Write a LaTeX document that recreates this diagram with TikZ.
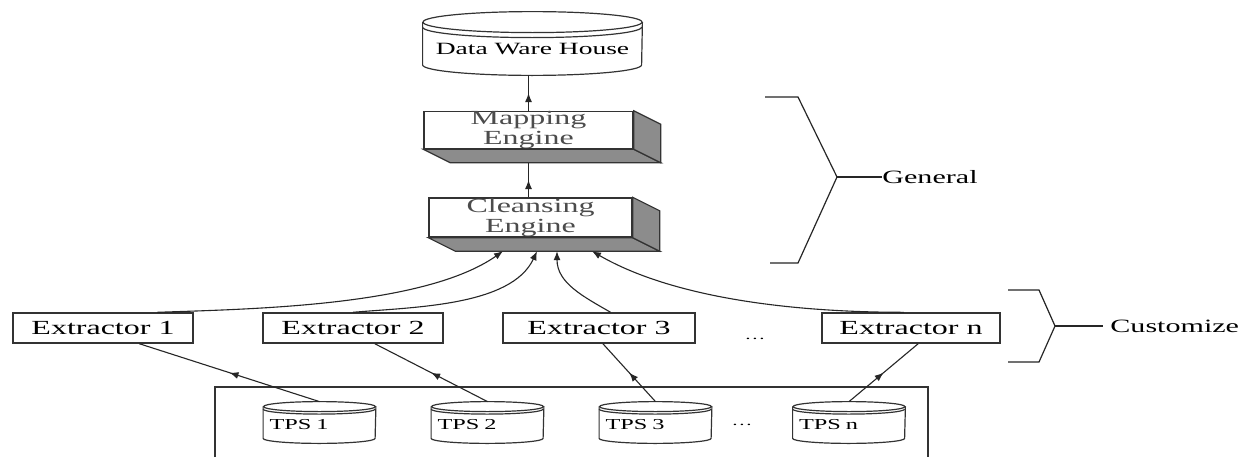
\documentclass[tikz,border=0pt]{standalone}
\usepackage{fontspec}
\setmainfont{Liberation Serif}[FakeStretch=1.6]
\usetikzlibrary{calc, arrows.meta, decorations.markings}
\tikzset{
  box/.style={draw=black!80, line width=0.7pt, fill=white, inner sep=0pt},
  extbox/.style={box, minimum height=15pt, font=\fontsize{10}{11}\selectfont},
  engine/.style={box, align=center, text=black!70, font=\fontsize{10}{8.5}\selectfont},
  side/.style={fill=black!45, draw=black!80, line width=0.6pt},
  dbnode/.style={inner sep=0pt},
  dbline/.style={draw=black!80, line width=0.6pt},
  link/.style={black!85, line width=0.55pt},
  midarrow/.style={link, postaction={decorate},
    decoration={markings, mark=at position 0.5 with {\arrow{Latex[length=4.5pt,width=3.5pt]}}}},
  feed/.style={link, -{Latex[length=4.5pt,width=3.5pt]}},
  brace/.style={black!85, line width=0.6pt},
  tag/.style={inner sep=0pt, font=\fontsize{9.4}{11}\selectfont},
  gap/.style={inner sep=0pt, font=\fontsize{6.5}{8}\selectfont},
}
% cylinder round a node: name, x radius, y radius, lip
\newcommand\drawdb[4]{%
  \draw[dbline] (#1.north west) -- ($(#1.south west)+(0,#3)$)
    arc[start angle=180, end angle=360, x radius=#2, y radius=#3] -- (#1.north east);
  \draw[dbline] (#1.north) ellipse[x radius=#2, y radius=#3];
  \draw[dbline] ($(#1.north west)+(0,-#4)$)
    arc[start angle=180, end angle=360, x radius=#2, y radius=#3];
}

\begin{document}
\begin{tikzpicture}[x=0.5pt, y=0.5pt]
  \useasboundingbox[fill=white] (0,0) rectangle (1252,457);

  % --- warehouse and engines ---
  \node[dbnode, minimum width=109.5pt, minimum height=26.25pt,
        font=\fontsize{8.6}{10}\selectfont] (dwh) at (532.5,408.25) {Data Ware House};
  \drawdb{dwh}{109.5}{10.5}{5}

  \node[engine, minimum width=104.5pt, minimum height=18pt] (mapping) at (528.5,327) {Mapping\\Engine};
  \node[engine, minimum width=101.5pt, minimum height=19.5pt] (cleansing) at (530.5,239.5) {Cleansing\\Engine};
  \foreach \e in {mapping, cleansing} {
    \filldraw[side] (\e.south west) -- ($(\e.south west)+(27,-13.5)$)
      -- ($(\e.south east)+(27,-13.5)$) -- (\e.south east) -- cycle;
    \filldraw[side] (\e.north east) -- ($(\e.north east)+(27,-13.5)$)
      -- ($(\e.south east)+(27,-13.5)$) -- (\e.south east) -- cycle;
  }
  \coordinate (mapping-base) at ($(mapping.south)+(0,-13.5)$);

  \draw[midarrow] (mapping.north) -- (mapping.north |- dwh.south);
  \draw[midarrow] (mapping.south |- cleansing.north) -- (mapping-base);

  % --- extractors ---
  \foreach \i/\x/\w in {1/103/180, 2/353/180, 3/599/192, n/911/178}
    \node[extbox, minimum width=\w*0.5pt] (ext\i) at (\x,129) {Extractor \i};
  \node[gap] (extdots) at (755,118) {\dots};

  \coordinate (in1) at ($(cleansing.south)+(-27.5,-13.5)$);
  \coordinate (in2) at ($(cleansing.south)+(6.5,-13.5)$);
  \coordinate (in3) at ($(cleansing.south)+(26.5,-13.5)$);
  \coordinate (in4) at ($(cleansing.south)+(61.5,-13.5)$);

  \draw[feed] ($(ext1.north west)!0.8!(ext1.north east)$) to[out=2, in=-145, looseness=0.7] (in1);
  \draw[feed] (ext2.north) to[out=5, in=-115, looseness=0.8] (in2);
  \draw[feed] ($(ext3.north west)!0.56!(ext3.north east)$) to[out=150, in=-90] (in3);
  \draw[feed] ($(extn.north west)!0.46!(extn.north east)$) to[out=180, in=-30, looseness=0.8] (in4);

  % --- source systems ---
  \draw[dbline] (215,0) -- (215,70) -- (928,70) -- (928,0);
  \foreach \i/\x in {1/319.5, 2/487.5, 3/655.5, n/849} {
    \node[dbnode, minimum width=56pt, minimum height=18pt, text width=50pt, align=left,
          font=\fontsize{7.6}{9}\selectfont] (tps\i) at (\x,32) {TPS \i};
    \drawdb{tps\i}{56}{5}{2.5}
    \coordinate (tps\i-top) at ($(tps\i.north)+(0,5)$);
  }
  \node[gap] (tpsdots) at (742,32) {\dots};

  \draw[midarrow] (tps1-top) -- ($(ext1.south west)!0.7!(ext1.south east)$);
  \draw[midarrow] (tps2-top) -- ($(ext2.south west)!0.62!(ext2.south east)$);
  \draw[midarrow] (tps3-top) -- ($(ext3.south west)!0.52!(ext3.south east)$);
  \draw[midarrow] (tpsn-top) -- ($(extn.south west)!0.54!(extn.south east)$);

  % --- braces ---
  \coordinate (gen-tip) at (837,280);
  \node[tag, anchor=west] (general) at (882,280) {General};
  \draw[brace] (765,360) -- (798,360) -- (gen-tip) -- (798,194) -- (770,194);
  \draw[brace] (gen-tip) -- (general.west);

  \coordinate (cus-tip) at (1055,131);
  \node[tag, anchor=west, inner xsep=3.5pt] (customize) at (1103,131) {Customize};
  \draw[brace] (1008,167) -- (1039,167) -- (cus-tip) -- (1039,95) -- (1008,95);
  \draw[brace] (cus-tip) -- (customize.west);
\end{tikzpicture}
\end{document}
